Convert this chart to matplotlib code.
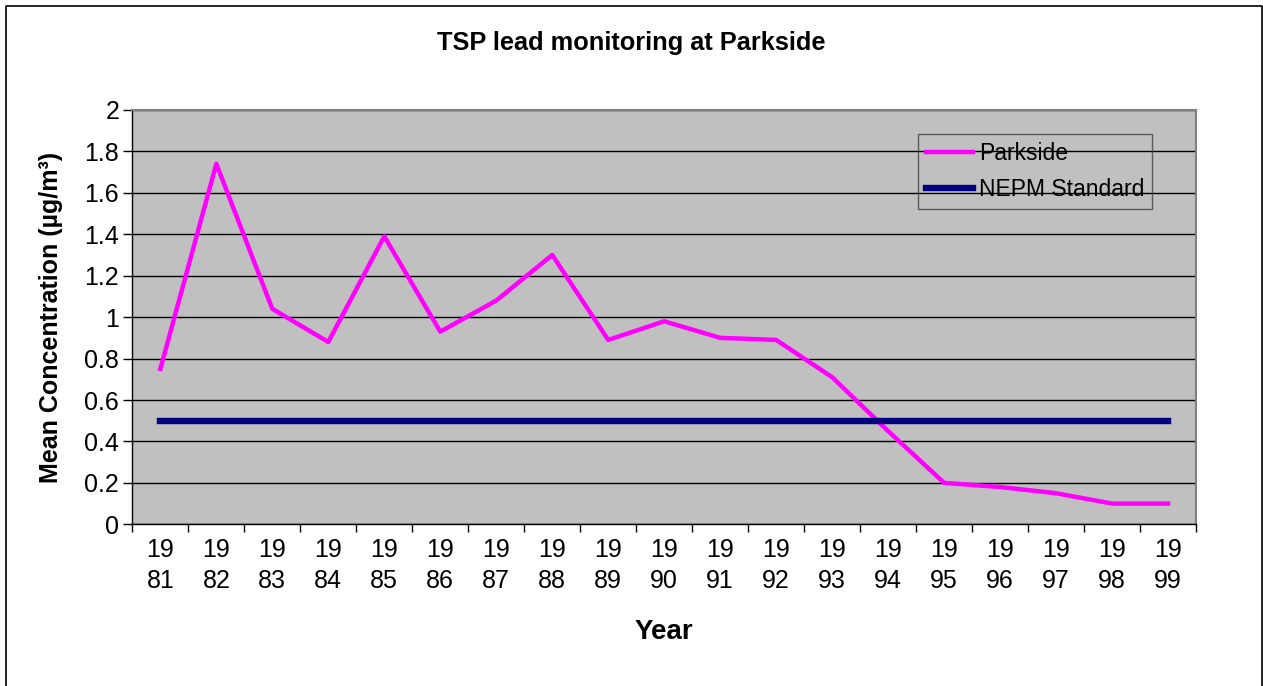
import matplotlib
matplotlib.use('Agg')
import matplotlib.pyplot as plt
from matplotlib.lines import Line2D
import numpy as np

plt.rcParams['font.family'] = ['Liberation Sans', 'DejaVu Sans']

years = list(range(1981, 2000))
parkside = [0.75, 1.74, 1.04, 0.88, 1.39, 0.93, 1.08, 1.30, 0.89, 0.98,
            0.90, 0.89, 0.71, 0.45, 0.20, 0.18, 0.15, 0.10, 0.10]
nepm_standard = [0.5] * len(years)
year_labels = [f'{str(y)[:2]}\n{str(y)[2:]}' for y in years]

fig = plt.figure(figsize=(12.63, 6.86), dpi=100)
fig.patch.set_facecolor('white')

# outer chart border (left, top, right)
bx0, bx1, by1 = 5.5 / 1263, 1261.5 / 1263, 1 - 5.5 / 686
fig.add_artist(Line2D([bx0, bx0, bx1, bx1], [0, by1, by1, 0], transform=fig.transFigure,
                      color='black', linewidth=1.2))

ax = fig.add_axes([0.1048, 0.2357, 0.8422, 0.604])
ax.set_facecolor('#C0C0C0')

x = np.arange(len(years))
ax.plot(x, parkside, color='#FF00FF', linewidth=3.2, label='Parkside', zorder=3)
ax.plot(x, nepm_standard, color='#000080', linewidth=4.6, label='NEPM Standard', zorder=3)

ax.set_xlim(-0.5, len(years) - 0.5)
ax.set_ylim(0, 2)
ax.set_yticks(np.arange(0, 2.01, 0.2))
ax.set_yticklabels(['0', '0.2', '0.4', '0.6', '0.8', '1', '1.2', '1.4', '1.6', '1.8', '2'])
ax.yaxis.grid(True, color='black', linewidth=1.0)
ax.set_axisbelow(True)

# category boundaries get the tick marks, centres get the labels
ax.set_xticks(np.arange(-0.5, len(years), 1.0))
ax.set_xticklabels([])
ax.set_xticks(x, minor=True)
ax.set_xticklabels(year_labels, minor=True, fontsize=18, linespacing=1.35)
ax.tick_params(axis='x', which='major', length=6, width=1, direction='out')
ax.tick_params(axis='x', which='minor', length=0, pad=10)
ax.tick_params(axis='y', length=6.5, width=1, direction='out', labelsize=18, pad=3)

for side in ['top', 'right']:
    ax.spines[side].set_color('#808080')
    ax.spines[side].set_linewidth(1.5)
for side in ['left', 'bottom']:
    ax.spines[side].set_color('black')
    ax.spines[side].set_linewidth(1.0)

ax.set_xlabel('Year', fontsize=20, fontweight='bold', labelpad=19)
ax.set_ylabel('Mean Concentration (µg/m³)', fontsize=18, fontweight='bold', labelpad=15)
fig.text(0.5, 0.938, 'TSP lead monitoring at Parkside', ha='center', va='center',
         fontsize=18.3, fontweight='bold')

leg = ax.legend(loc='upper left', bbox_to_anchor=(0.7387, 0.942), frameon=True,
                fancybox=False, fontsize=16.5, handlelength=2.05, handletextpad=0.26,
                borderpad=0.35, labelspacing=0.55, borderaxespad=0)
leg.get_frame().set_facecolor('none')
leg.get_frame().set_edgecolor('#404040')
leg.get_frame().set_linewidth(1.0)

fig.savefig('out.png', dpi=100)
